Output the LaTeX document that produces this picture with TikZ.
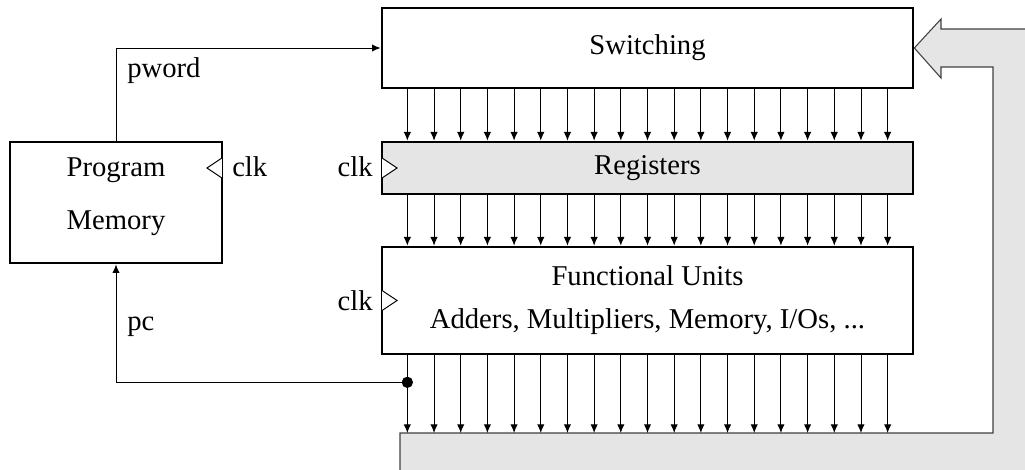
\documentclass[tikz,border=0pt]{standalone}
\usepackage{fontspec}
\setmainfont{Liberation Serif}
\newfontfamily\diagramFont{Liberation Serif}
\usetikzlibrary{calc,arrows.meta,backgrounds}
\definecolor{busGray}{RGB}{229,229,229}
\tikzstyle{blockStyle} = [draw=black, line width=2pt, fill=white, inner sep=0pt]
\tikzstyle{busArrow} = [-{Latex[length=6.5pt,width=5.5pt]}, line width=0.7pt]
\tikzstyle{clkStyle} = [fill=white, line width=0.7pt]
\tikzstyle{clkText} = [inner sep=0pt]
\tikzstyle{returnPath} = [fill=busGray, draw=black!75, line width=0.8pt]
\newcommand{\clockIn}[2]{\draw [clkStyle] ($(#1)+({1.4*#2},-10)$) -- ++({15*#2},10) -- ++({-15*#2},10);}
\newcommand{\busArrows}[2]{
  \foreach \bit in {1,...,19} {
    \coordinate (#1Bit\bit) at ($(#1.south west)!\bit/20!(#1.south east)$);
    \draw [busArrow] (#1Bit\bit) -- (#1Bit\bit |- #2);
  }
}
\begin{document}
\begin{tikzpicture}[x=0.75pt, y=-0.75pt, font=\diagramFont\fontsize{21.5}{26}\selectfont]
  \useasboundingbox (0,0) rectangle (1025,470);
  \coordinate (retTop) at (400,433);
  \node [blockStyle, minimum width=398.25pt, minimum height=60pt] (sw) at (647.5,48) {Switching};
  \node [blockStyle, fill=busGray, minimum width=398.25pt, minimum height=39pt] (reg) at (647.5,168) {Registers};
  \node [blockStyle, minimum width=398.25pt, minimum height=80.25pt, align=center,
    font=\diagramFont\fontsize{21.5}{32.25}\selectfont] (fu) at (647.5,300.5) {Functional Units\\Adders, Multipliers, Memory, I/Os, ...};
  \node [blockStyle, minimum width=159pt, minimum height=90.75pt] (pm) at (116,202.5) {};
  \node [align=center, font=\diagramFont\fontsize{21.5}{39.75}\selectfont] (pmText) at ($(pm.center)+(0,-6)$) {Program\\Memory};

  \begin{pgfonlayer}{background}
    \clip (0,0) rectangle (1025,470);
    \draw [returnPath] (400,480) -- (retTop) -- (993,433) -- (993,67) -- (941,67) -- (941,78)
      -- (sw.east) -- (941,19) -- (941,29) -- (1040,29) -- (1040,480) -- cycle;
  \end{pgfonlayer}

  \busArrows{sw}{reg.north}
  \busArrows{reg}{fu.north}
  \busArrows{fu}{retTop}

  \node [circle, fill=black, inner sep=0pt, minimum size=8.5pt] (tap) at ($(fuBit1)+(0,27)$) {};
  \draw [busArrow] (tap.center) -| (pm.south);
  \draw [busArrow] (pm.north) |- (sw.west);

  \clockIn{reg.west}{1}
  \clockIn{fu.west}{1}
  \clockIn{$(pm.east)+(0,-34.5)$}{-1}

  \node [clkText, anchor=base east] (regClk) at (373,177) {clk};
  \node [clkText, anchor=base east] (fuClk) at (373,311) {clk};
  \node [clkText, anchor=base west] (pmClk) at (232,177) {clk};
  \node [clkText, anchor=base west] (pwordLabel) at (127,78) {pword};
  \node [clkText, anchor=base west] (pcLabel) at (127,330) {pc};
\end{tikzpicture}
\end{document}
